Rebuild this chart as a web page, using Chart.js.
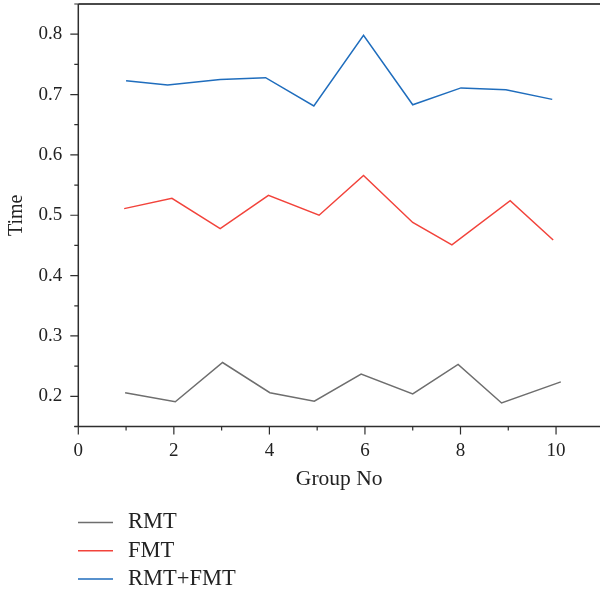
<!DOCTYPE html>
<html>
<head>
<meta charset="utf-8">
<script src="https://cdn.jsdelivr.net/npm/chart.js@4/dist/chart.umd.min.js"></script>
<style>
  html, body { margin: 0; padding: 0; background: #ffffff; }
  #wrap { width: 600px; height: 590px; position: relative; }
</style>
</head>
<body>
<div id="wrap"><canvas id="c"></canvas></div>
<script>
// ---- data ----
const seriesNames = ['RMT', 'FMT', 'RMT+FMT'];
const rmtX = [0.98, 2.03, 3.02, 4.01, 4.94, 5.92, 7.00, 7.95, 8.86, 10.10];
const rmtY = [0.206, 0.191, 0.256, 0.206, 0.192, 0.237, 0.204, 0.253, 0.189, 0.224];
const fmtX = [0.96, 1.96, 2.97, 3.98, 5.04, 5.97, 7.00, 7.82, 9.04, 9.94];
const fmtY = [0.511, 0.528, 0.478, 0.533, 0.500, 0.566, 0.488, 0.451, 0.524, 0.459];
const bothX = [1.00, 1.87, 2.97, 3.92, 4.93, 5.97, 7.00, 8.01, 8.95, 9.92];
const bothY = [0.723, 0.716, 0.725, 0.728, 0.681, 0.798, 0.683, 0.711, 0.708, 0.692];
const xTickValues = [0, 1, 2, 3, 4, 5, 6, 7, 8, 9, 10];
const yTickValues = [0.2, 0.3, 0.4, 0.5, 0.6, 0.7, 0.8];
const yMinorValues = [0.15, 0.25, 0.35, 0.45, 0.55, 0.65, 0.75, 0.85];

const colors = ['#6e6e6e', '#f2433b', '#1f6dbd'];
const FONT = "'Liberation Serif', 'DejaVu Serif', serif";
const AXIS = '#2e2e2e';

function pts(xs, ys) { return xs.map((x, i) => ({ x: x, y: ys[i] })); }

const ticksPlugin = {
  id: 'ticksPlugin',
  afterDraw(chart) {
    const ctx = chart.ctx;
    const xs = chart.scales.x, ys = chart.scales.y;
    const a = chart.chartArea;
    ctx.save();
    // top frame line
    ctx.beginPath();
    ctx.moveTo(a.left, a.top);
    ctx.lineTo(a.right, a.top);
    ctx.strokeStyle = '#4a4a4a';
    ctx.lineWidth = 2;
    ctx.stroke();
    // axes lines
    ctx.strokeStyle = AXIS;
    ctx.lineWidth = 1.5;
    ctx.beginPath();
    ctx.moveTo(a.left, a.top);
    ctx.lineTo(a.left, a.bottom);
    ctx.moveTo(a.left - 4, a.bottom);
    ctx.lineTo(a.right, a.bottom);
    ctx.stroke();
    // x ticks
    ctx.lineWidth = 1.2;
    ctx.beginPath();
    xTickValues.forEach(v => {
      const px = xs.getPixelForValue(v);
      const len = (v % 2 === 0) ? 8 : 4;
      ctx.moveTo(px, a.bottom);
      ctx.lineTo(px, a.bottom + len);
    });
    // y ticks
    yTickValues.forEach(v => {
      const py = ys.getPixelForValue(v);
      ctx.moveTo(a.left - 8, py);
      ctx.lineTo(a.left, py);
    });
    yMinorValues.forEach(v => {
      const py = ys.getPixelForValue(v);
      ctx.moveTo(a.left - 4, py);
      ctx.lineTo(a.left, py);
    });
    ctx.stroke();

    // legend
    const legendTop = 522.5, legendStep = 28.2;
    ctx.font = '22.5px ' + FONT;
    ctx.textBaseline = 'middle';
    ctx.textAlign = 'left';
    chart.data.datasets.forEach((ds, i) => {
      const y = legendTop + i * legendStep;
      ctx.strokeStyle = ds.borderColor;
      ctx.lineWidth = 1.5;
      ctx.beginPath();
      ctx.moveTo(78, y);
      ctx.lineTo(113, y);
      ctx.stroke();
      ctx.fillStyle = '#222';
      ctx.fillText(ds.label, 128, y);
    });
    ctx.restore();
  }
};

new Chart(document.getElementById('c'), {
  type: 'line',
  data: {
    datasets: [
      { label: seriesNames[0], data: pts(rmtX, rmtY), borderColor: colors[0] },
      { label: seriesNames[1], data: pts(fmtX, fmtY), borderColor: colors[1] },
      { label: seriesNames[2], data: pts(bothX, bothY), borderColor: colors[2] }
    ]
  },
  options: {
    responsive: true,
    maintainAspectRatio: false,
    animation: false,
    events: [],
    layout: { padding: { top: 4, right: 0, bottom: 97.5, left: 0 } },
    elements: {
      line: { borderWidth: 1.5, tension: 0, fill: false },
      point: { radius: 0 }
    },
    plugins: { legend: { display: false }, tooltip: { enabled: false } },
    scales: {
      x: {
        type: 'linear',
        min: 0,
        max: 10.92,
        afterBuildTicks: s => { s.ticks = xTickValues.map(v => ({ value: v })); },
        afterFit: s => { s.height = 66; s.paddingLeft = 0; s.paddingRight = 0; },
        grid: { display: false, drawTicks: false },
        border: { display: false },
        ticks: {
          autoSkip: false,
          maxRotation: 0,
          padding: 13,
          color: '#222',
          font: { family: FONT, size: 19 },
          callback: v => (v % 2 === 0 ? String(v) : '')
        },
        title: {
          display: true,
          text: 'Group No',
          color: '#222',
          font: { family: FONT, size: 21.5 },
          padding: { top: 0, bottom: 0 }
        }
      },
      y: {
        type: 'linear',
        min: 0.15,
        max: 0.85,
        afterBuildTicks: s => { s.ticks = yTickValues.map(v => ({ value: v })); },
        afterFit: s => { s.width = 78.3; s.paddingTop = 0; s.paddingBottom = 0; },
        grid: { display: false, drawTicks: false },
        border: { display: false },
        ticks: {
          padding: 16,
          color: '#222',
          font: { family: FONT, size: 19 },
          callback: v => v.toFixed(1)
        },
        title: {
          display: true,
          text: 'Time',
          color: '#222',
          font: { family: FONT, size: 20 },
          padding: { top: 5, bottom: 0 }
        }
      }
    }
  },
  plugins: [ticksPlugin]
});
</script>
</body>
</html>
